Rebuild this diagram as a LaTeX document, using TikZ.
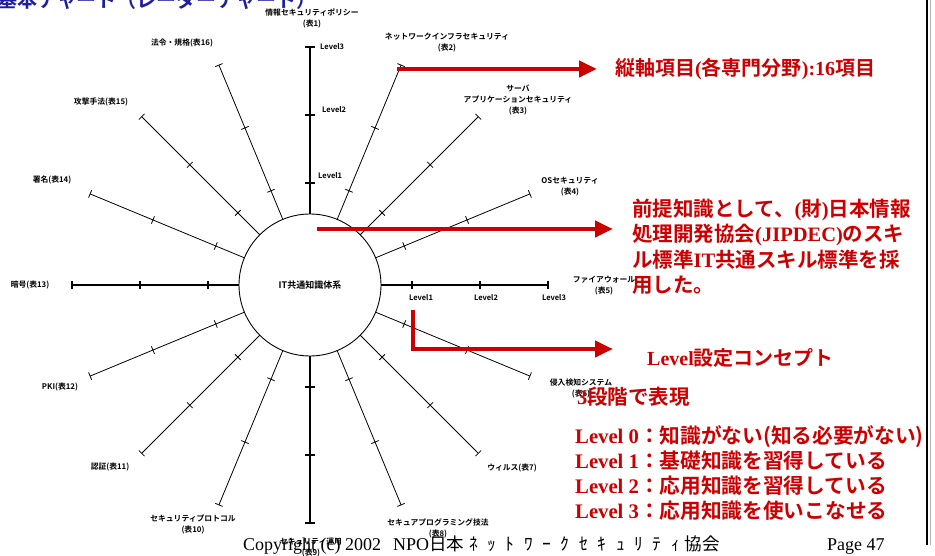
\documentclass[tikz,border=0pt]{standalone}
\usepackage{fontspec}
\setmainfont{Liberation Serif}
\newfontfamily\jp{Noto Sans CJK JP}[BoldFont={Noto Sans CJK JP Bold}]
\usetikzlibrary{arrows.meta,calc}
\definecolor{myred}{RGB}{204,0,0}
\definecolor{titleblue}{RGB}{30,30,160}
\newcommand\lt[1]{{\rmfamily\bfseries #1}}
\newcommand\hw[1]{\makebox[1.05em]{#1}}
\begin{document}
\begin{tikzpicture}[x=1pt,y=-1pt,
  lab/.style={font=\jp\bfseries\fontsize{7.8}{11}\selectfont, align=center, inner sep=0},
  lvl/.style={font=\jp\bfseries\fontsize{7.5}{9}\selectfont, inner sep=0},
  redtxt/.style={text=myred, font=\jp\bfseries\fontsize{20.5}{25.5}\selectfont, inner sep=0, anchor=base west},
  bigred/.style={redtxt, font=\jp\bfseries\fontsize{20.7}{25}\selectfont},
  smallred/.style={redtxt, font=\jp\bfseries\fontsize{20}{25}\selectfont},
  redarrow/.style={draw=myred, line width=4.5pt, line join=miter, -{Triangle[length=18pt,width=16pt]}}
]
\useasboundingbox (0,0) rectangle (935,556);

% title
\node[anchor=base west, inner sep=0, text=titleblue, font=\jp\bfseries\fontsize{20}{20}\selectfont] (title) at (-3,8) {基本チャート（レーダーチャート）};

% centre
\node[circle, draw, line width=0.9pt, minimum size=142pt, inner sep=0, font=\jp\bfseries\fontsize{9}{10}\selectfont] (c) at (310,285) {IT共通知識体系};

% spokes
\foreach \ang/\lw/\tk in {90/1.6/5, 67.5/0.8/4, 45/0.8/4, 22.5/0.8/4, 0/1.1/4, -22.5/0.8/4, -45/0.8/4, -67.5/0.8/4, -90/1.6/5, -112.5/0.8/4, -135/0.8/4, -157.5/0.8/4, 180/1.1/4, 157.5/0.8/4, 135/0.8/4, 112.5/0.8/4}
{
  \draw[line width=\lw pt] ($(c.center)+(\ang:71pt)$) -- ($(c.center)+(\ang:238pt)$);
  \foreach \rr in {102,170,238}
    \draw[line width=\lw pt] ($(c.center)+(\ang:\rr pt)+(\ang+90:\tk pt)$) -- ($(c.center)+(\ang:\rr pt)+(\ang-90:\tk pt)$);
}

% level labels
\node[lvl, anchor=west] (v3) at (320,47) {Level3};
\node[lvl, anchor=west] (v2) at (322,110) {Level2};
\node[lvl, anchor=west] (v1) at (318,176) {Level1};
\node[lvl] (h1) at (421,298) {Level1};
\node[lvl] (h2) at (486,298) {Level2};
\node[lvl] (h3) at (554,298) {Level3};

% axis labels
\node[lab] (l1) at (312,18) {情報セキュリティポリシー\\(表1)};
\node[lab] (l2) at (447,43) {ネットワークインフラセキュリティ\\(表2)};
\node[lab] (l3) at (518,100) {サーバ\\アプリケーションセキュリティ\\(表3)};
\node[lab] (l4) at (570,187) {OSセキュリティ\\(表4)};
\node[lab] (l5) at (604,286) {ファイアウォール\\(表5)};
\node[lab] (l6) at (581,388) {侵入検知システム\\(表6)};
\node[lab] (l7) at (512,468) {ウィルス(表7)};
\node[lab] (l8) at (438,528) {セキュアプログラミング技法\\(表8)};
\node[lab] (l9) at (311,548) {セキュリティ運用\\(表9)};
\node[lab] (l10) at (193,524) {セキュリティプロトコル\\(表10)};
\node[lab] (l11) at (110,467) {認証(表11)};
\node[lab] (l12) at (60,387) {PKI(表12)};
\node[lab] (l13) at (30,285) {暗号(表13)};
\node[lab] (l14) at (52,180) {署名(表14)};
\node[lab] (l15) at (101,102) {攻撃手法(表15)};
\node[lab] (l16) at (182,43) {法令・規格(表16)};

% red arrows
\coordinate (a1s) at (397,69);
\coordinate (a1e) at (597,69);
\draw[redarrow] (a1s) -- (a1e);
\coordinate (a2s) at (317,229);
\coordinate (a2e) at (613,229);
\draw[redarrow] (a2s) -- (a2e);
\coordinate (a3s) at (413,310);
\coordinate (a3e) at (613,349);
\draw[redarrow] (a3s) |- (a3e);

% red texts
\node[smallred] (t1) at (615,76) {縦軸項目\lt{(}各専門分野\lt{):16}項目};
\node[redtxt] (t2a) at (632,216.5) {前提知識として、\lt{(}財\lt{)}日本情報};
\node[redtxt] (t2b) at (632,242) {処理開発協会\lt{(JIPDEC)}のスキ};
\node[redtxt] (t2c) at (632,267.5) {ル標準\lt{IT}共通スキル標準を採};
\node[redtxt] (t2d) at (632,293) {用した。};
\node[smallred] (t3) at (647,365.5) {\lt{Level}設定コンセプト};
\node[redtxt] (t4) at (577,404.5) {\lt{3}段階で表現};
\node[bigred] (t5a) at (575,443.5) {\lt{Level 0}：知識がない(知る必要がない)};
\node[bigred] (t5b) at (575,468.5) {\lt{Level 1}：基礎知識を習得している};
\node[bigred] (t5c) at (575,493.5) {\lt{Level 2}：応用知識を習得している};
\node[bigred] (t5d) at (575,518.5) {\lt{Level 3}：応用知識を使いこなせる};

% footer
\node[anchor=base west, inner sep=0, font=\fontsize{18}{20}\selectfont] (foot) at (243,550) {Copyright (c) 2002\hspace{12pt}NPO{\jp\fontsize{17.5}{20}\selectfont 日本\hw{ﾈ}\hw{ｯ}\hw{ﾄ}\hw{ﾜ}\hw{ｰ}\hw{ｸ}\hw{ｾ}\hw{ｷ}\hw{ｭ}\hw{ﾘ}\hw{ﾃ}\hw{ｨ}協会}};
\node[anchor=base west, inner sep=0, font=\fontsize{18}{20}\selectfont] (page) at (827,550) {Page 47};

% right border
\coordinate (b1) at (927,0);
\coordinate (b2) at (927,545);
\draw[line width=1.5pt] (b1) -- (b2);
\draw[line width=1pt, gray!60] ($(b1)+(3,0)$) -- ($(b2)+(3,0)$);
\end{tikzpicture}
\end{document}
